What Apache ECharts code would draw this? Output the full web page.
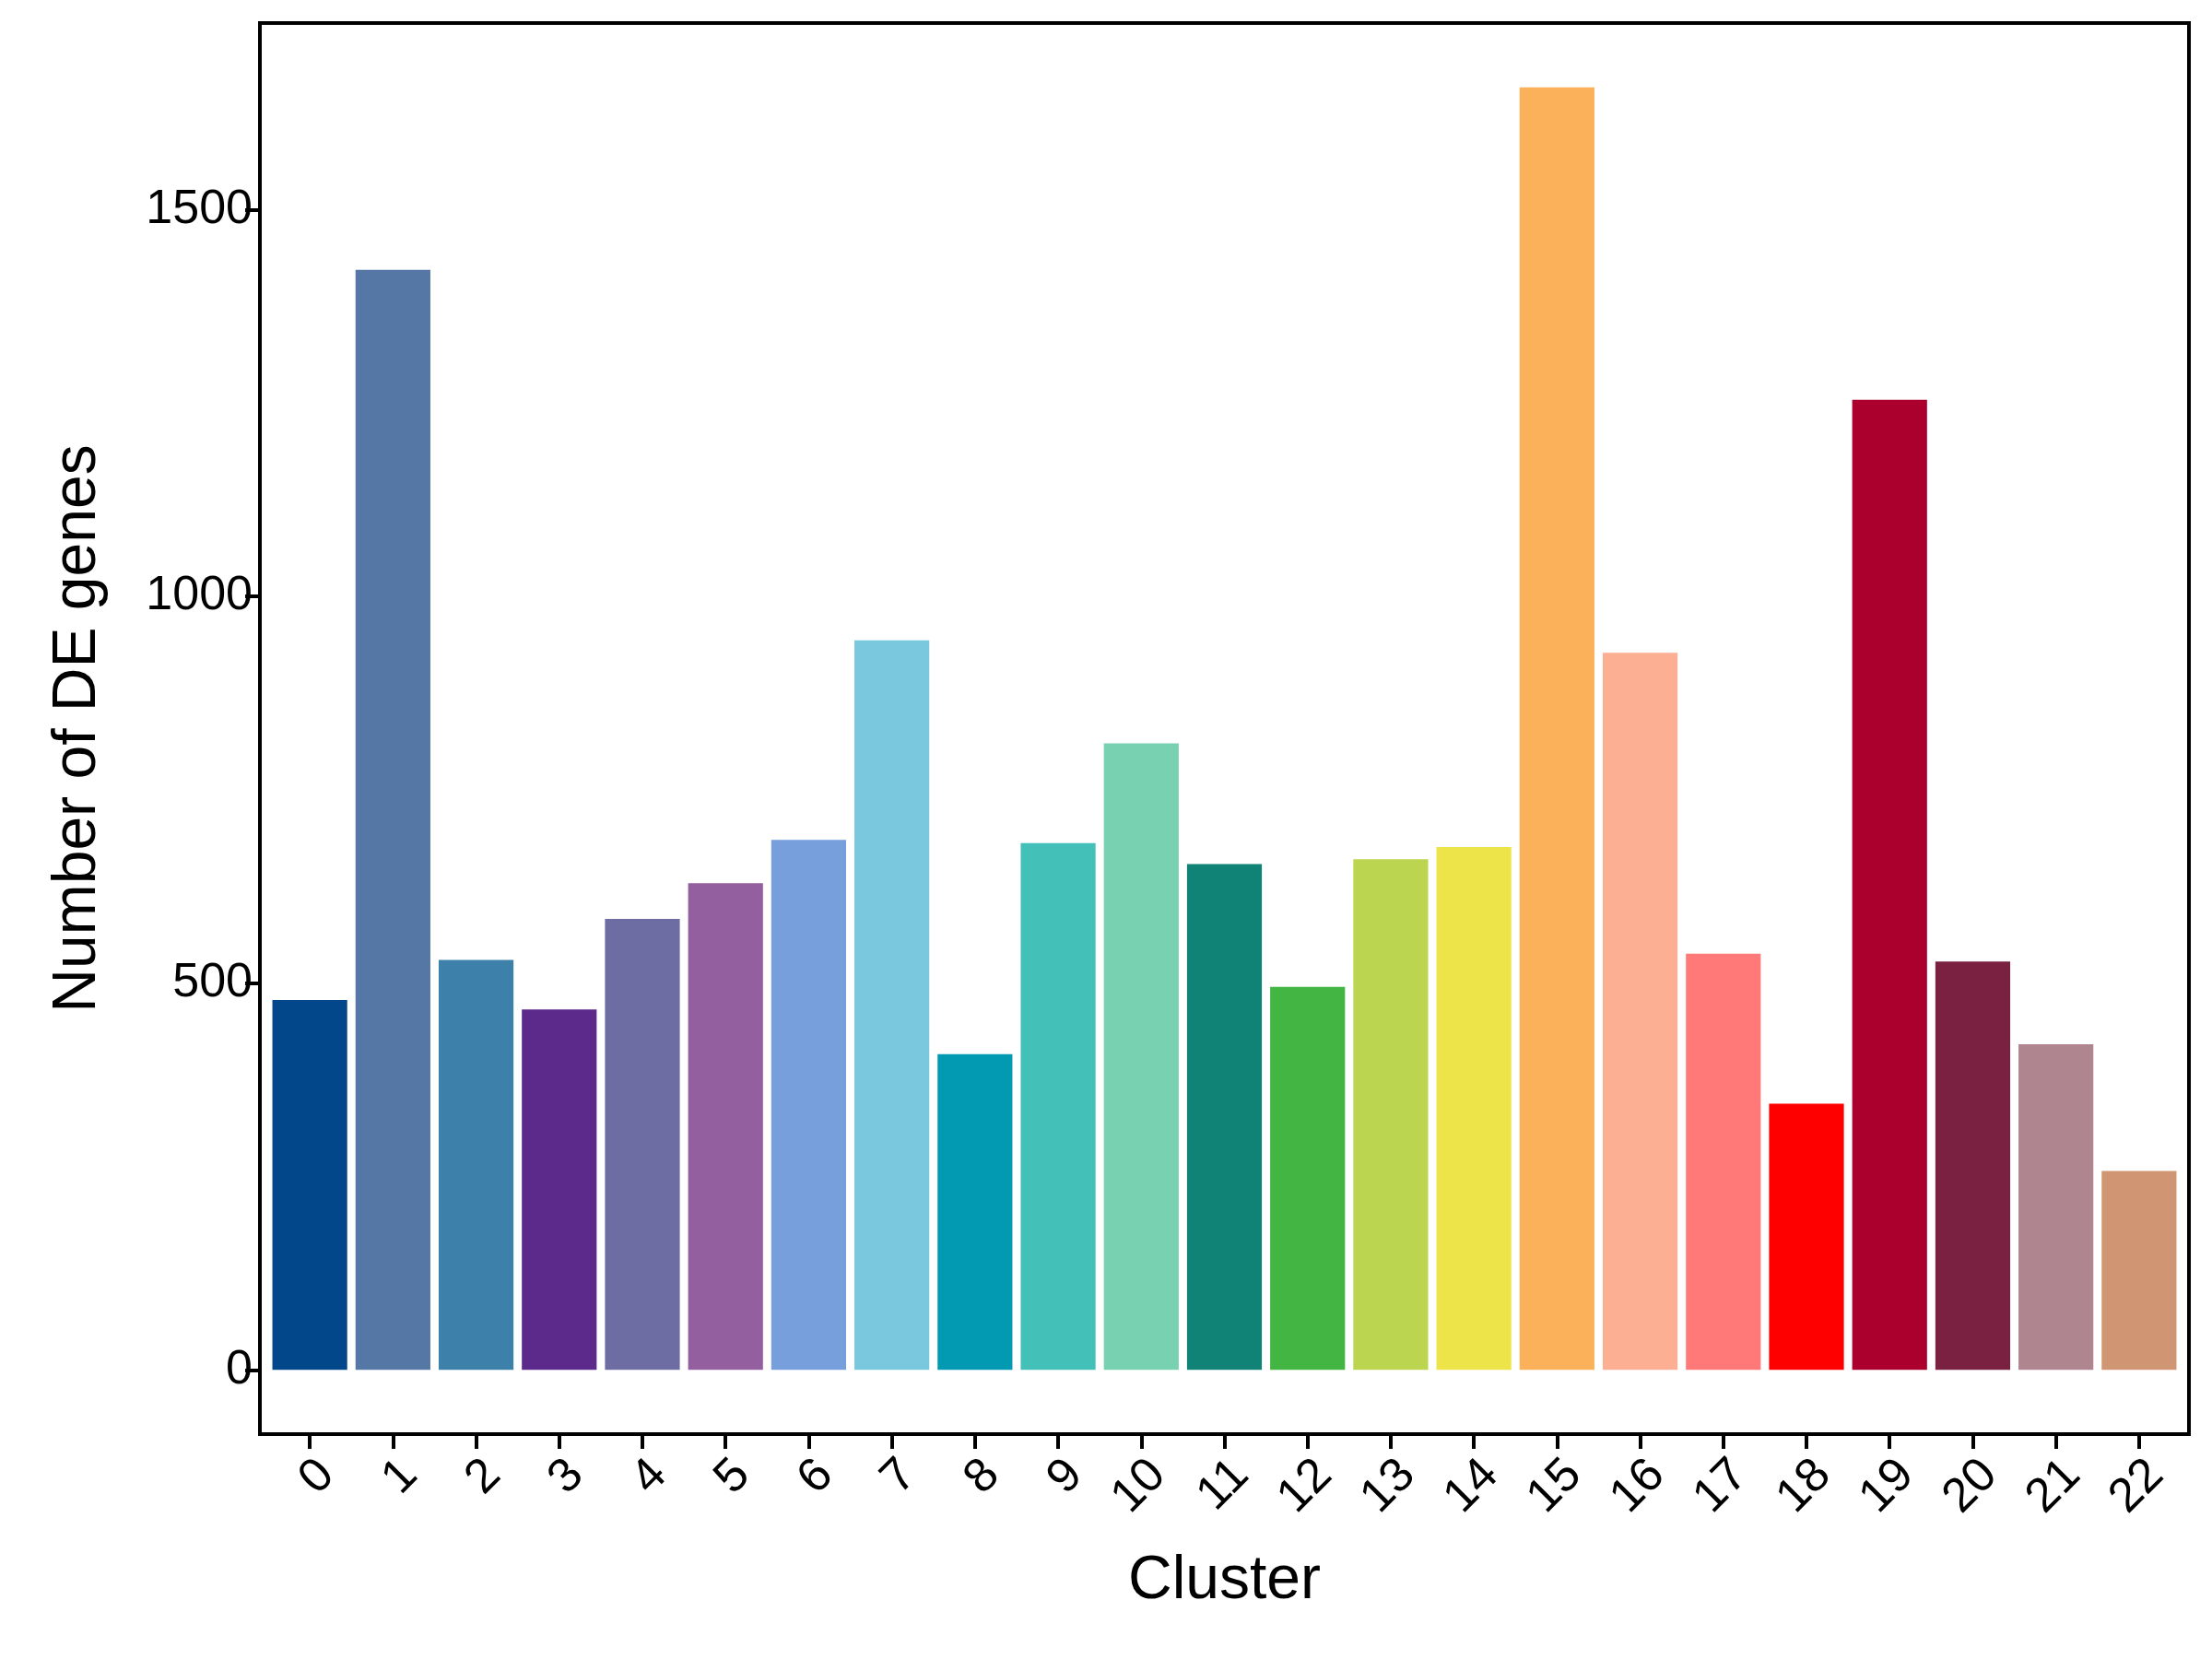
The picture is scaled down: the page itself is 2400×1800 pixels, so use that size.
<!DOCTYPE html>
<html>
<head>
<meta charset="utf-8">
<script src="https://cdn.jsdelivr.net/npm/echarts@6/dist/echarts.min.js"></script>
<style>
html,body{margin:0;padding:0;background:#fff;}
#chart{width:2400px;height:1800px;}
</style>
</head>
<body>
<div id="chart"></div>
<script>
const clusters = ['0','1','2','3','4','5','6','7','8','9','10','11','12','13','14','15','16','17','18','19','20','21','22'];
const deGenes = [478,1422,530,466,583,629,685,943,408,681,810,654,495,660,676,1658,927,538,344,1254,528,421,257];
const barColors = ['#02478a','#5477a6','#3d81ab','#5c2a8b','#6e6da3','#935f9f','#779fdb','#79c8dd','#029ab3','#43c0b8','#78d1b0','#108276','#42b542','#bcd551','#ede449','#fbb15a','#fdaf94','#ff7979','#ff0000','#ab002e','#7a2142','#af8590','#d09573'];
const yTicks = [0,500,1000,1500];

const font = '"Liberation Sans", Arial, Helvetica, sans-serif';
const chart = echarts.init(document.getElementById('chart'), null, {renderer:'canvas'});
const idx = clusters.map((c,i)=>i);
chart.setOption({
  animation:false,
  backgroundColor:'#ffffff',
  grid:{left:282, right:25, top:25, bottom:244, show:true, borderColor:'#000', borderWidth:4, backgroundColor:'transparent'},
  xAxis:{
    type:'value', min:-0.6, max:clusters.length-0.4,
    name:'Cluster', nameLocation:'middle', nameGap:127,
    nameTextStyle:{fontSize:66, color:'#000', fontFamily:font},
    axisLine:{show:true, onZero:false, lineStyle:{color:'#000', width:4}},
    axisTick:{show:true, length:16, customValues:idx, lineStyle:{color:'#000', width:4}},
    axisLabel:{show:true, customValues:idx, rotate:45, margin:18, verticalAlign:'top', fontSize:52, color:'#000', fontFamily:font,
      formatter:(v)=>clusters[Math.round(v)]},
    splitLine:{show:false}
  },
  yAxis:{
    type:'value', min:-83, max:1741,
    name:'Number of DE genes', nameLocation:'middle', nameGap:164, nameRotate:90,
    nameTextStyle:{fontSize:66, color:'#000', fontFamily:font},
    axisLine:{show:true, onZero:false, lineStyle:{color:'#000', width:4}},
    axisTick:{show:true, length:16, customValues:yTicks, lineStyle:{color:'#000', width:4}},
    axisLabel:{show:true, customValues:yTicks, margin:8, fontSize:52, color:'#000', fontFamily:font,
      formatter:(v)=>String(v)},
    splitLine:{show:false}
  },
  series:[{
    type:'bar',
    barWidth:'90%',
    data: deGenes.map((v,i)=>({value:[i,v], itemStyle:{color:barColors[i]}}))
  }]
});
</script>
</body>
</html>
